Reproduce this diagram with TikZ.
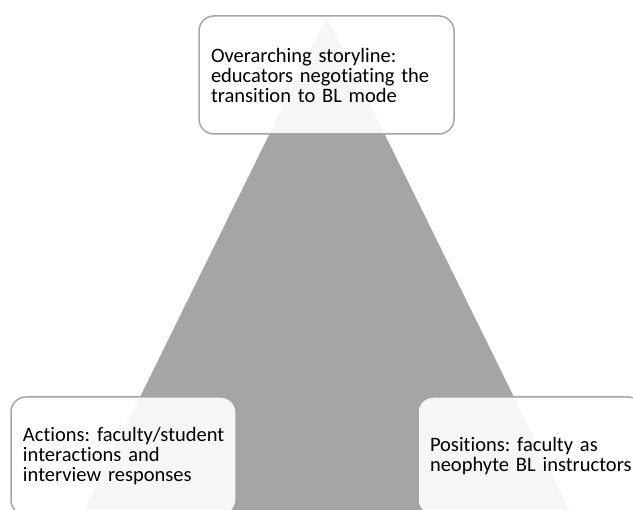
\documentclass[tikz,border=0pt]{standalone}
\usepackage{fontspec}
\setmainfont{Carlito}[RawFeature=-liga]
\frenchspacing
\definecolor{trigray}{RGB}{165,165,165}
\definecolor{boxline}{RGB}{166,166,166}
\tikzset{
  labelbox/.style={rectangle, rounded corners=15pt, draw=boxline, line width=1.5pt,
    fill=white, fill opacity=0.9, text opacity=1, align=left,
    inner xsep=12pt, inner ysep=0pt,
    font=\fontsize{20.5}{20}\selectfont}
}
\begin{document}
\begin{tikzpicture}[x=1pt,y=-1pt]
\useasboundingbox (0,0) rectangle (633,510);
\fill[trigray] (327,17) -- (82,515) -- (572,515) -- cycle;
\node[labelbox, minimum width=255pt, minimum height=118pt, text width=231pt] (top) at (326.5,75)
  {Overarching storyline:\\educators negotiating the\\transition to BL mode};
\node[labelbox, minimum width=225pt, minimum height=118pt, text width=201pt] (left) at (123.5,456)
  {\mbox{Actions: faculty/student}\\interactions and\\interview responses};
\node[labelbox, minimum width=225pt, minimum height=118pt, text width=201pt] (right) at (530.5,456)
  {Positions: faculty as\\\mbox{neophyte BL instructors}};
\end{tikzpicture}
\end{document}
